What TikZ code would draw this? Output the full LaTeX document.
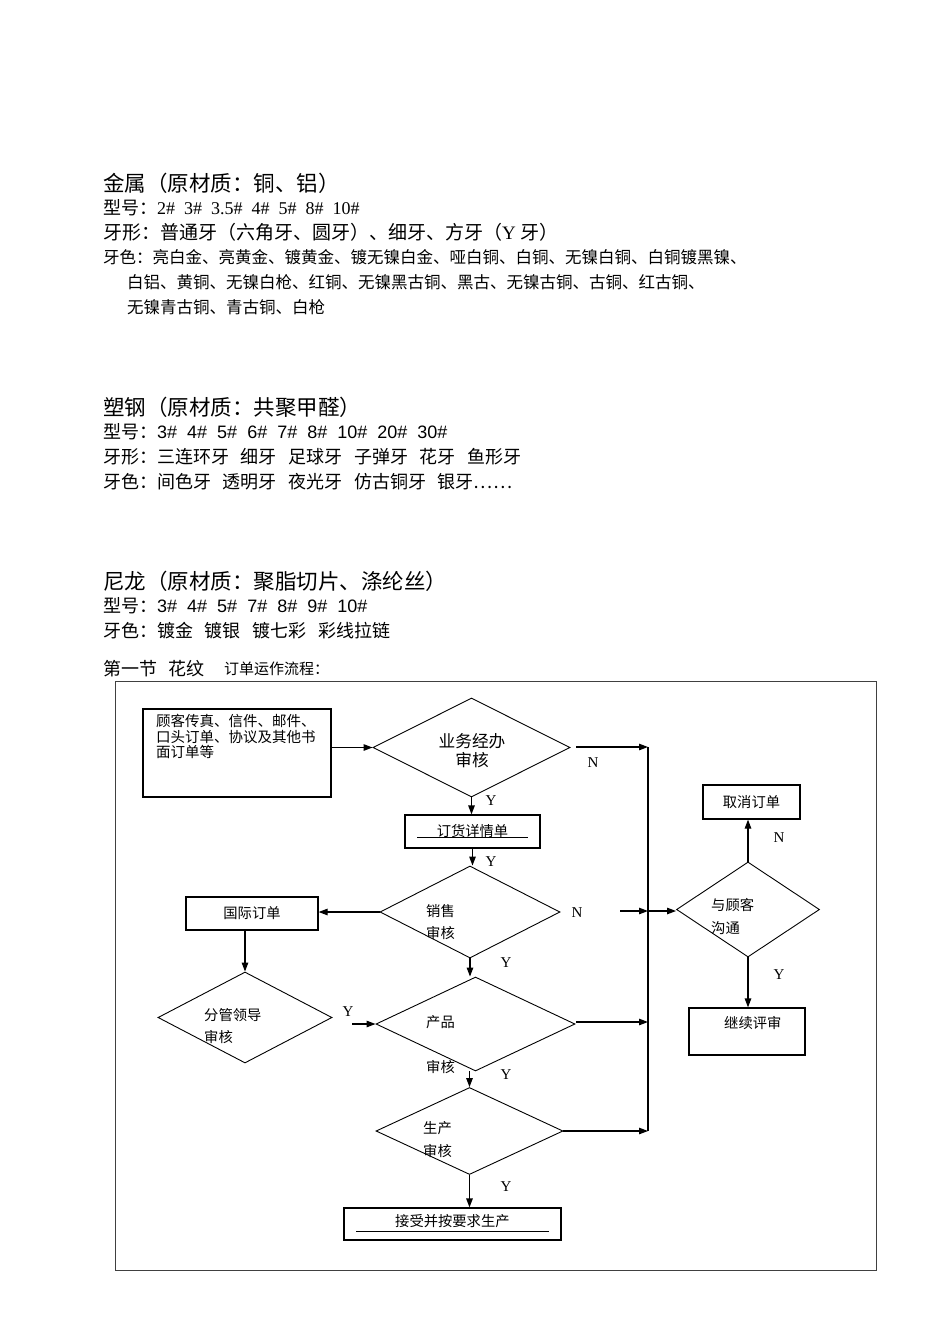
\documentclass[tikz,border=0pt]{standalone}
\usepackage{fontspec}
\setmainfont{Liberation Serif}
\setsansfont{Liberation Sans}
\newfontfamily\zh{Noto Sans CJK SC}
\usetikzlibrary{shapes.geometric, arrows.meta, calc}
\newcommand\wsp{\hspace{0.65em}}
\tikzset{
>={Triangle[length=9pt,width=6.5pt]}, % filled heads as in the scan
box/.style={draw, line width=1.2pt, inner sep=0pt, font=\zh\fontsize{14.3}{16}\selectfont}, % plain boxes
check/.style={draw, diamond, line width=0.9pt, inner sep=0pt}, % decisions, their text is set on top
flow/.style={->, line width=1.2pt}, % connectors
yn/.style={inner sep=0pt, font=\fontsize{15}{16}\selectfont}, % Y and N marks
lbl/.style={anchor=west, inner sep=0pt, align=left, font=\zh\fontsize{14.3}{22}\selectfont}, % text in the diamonds
head/.style={anchor=west, inner sep=0pt}, % lines of the page text
}
\begin{document}
\begin{tikzpicture}[x=1pt,y=-1pt]
\useasboundingbox (0,0) rectangle (950,1344);

% metal
\node[head, font=\zh\fontsize{21.5}{24}\selectfont] (metal) at (103,183) {金属（原材质：铜、铝）};
\node[head, font=\fontsize{18}{20}\selectfont] (metal-size) at (103,208) {{\zh 型号：}2\#~~3\#~~3.5\#~~4\#~~5\#~~8\#~~10\#};
\node[head, font=\fontsize{19}{20}\selectfont] (metal-tooth) at (103,232) {{\zh 牙形：普通牙（六角牙、圆牙）、细牙、方牙（}Y {\zh 牙）}};
\node[head, font=\zh\fontsize{16.5}{18}\selectfont] (metal-col1) at (103,257) {牙色：亮白金、亮黄金、镀黄金、镀无镍白金、哑白铜、白铜、无镍白铜、白铜镀黑镍、};
\node[head, font=\zh\fontsize{16.5}{18}\selectfont] (metal-col2) at (127,282) {白铝、黄铜、无镍白枪、红铜、无镍黑古铜、黑古、无镍古铜、古铜、红古铜、};
\node[head, font=\zh\fontsize{16.5}{18}\selectfont] (metal-col3) at (127,307) {无镍青古铜、青古铜、白枪};

% plastic
\node[head, font=\zh\fontsize{21.5}{24}\selectfont] (pom) at (103,407) {塑钢（原材质：共聚甲醛）};
\node[head, font=\sffamily\fontsize{18}{20}\selectfont] (pom-size) at (103,432) {{\zh 型号：}3\#~~4\#~~5\#~~6\#~~7\#~~8\#~~10\#~~20\#~~30\#};
\node[head, font=\zh\fontsize{18}{20}\selectfont] (pom-tooth) at (103,457) {牙形：三连环牙\wsp 细牙\wsp 足球牙\wsp 子弹牙\wsp 花牙\wsp 鱼形牙};
\node[head, font=\zh\fontsize{18}{20}\selectfont] (pom-col) at (103,482) {牙色：间色牙\wsp 透明牙\wsp 夜光牙\wsp 仿古铜牙\wsp 银牙……};

% nylon
\node[head, font=\zh\fontsize{21.5}{24}\selectfont] (nylon) at (103,581) {尼龙（原材质：聚脂切片、涤纶丝）};
\node[head, font=\sffamily\fontsize{18}{20}\selectfont] (nylon-size) at (103,606) {{\zh 型号：}3\#~~4\#~~5\#~~7\#~~8\#~~9\#~~10\#};
\node[head, font=\zh\fontsize{18}{20}\selectfont] (nylon-col) at (103,631) {牙色：镀金\wsp 镀银\wsp 镀七彩\wsp 彩线拉链};

\node[head, font=\zh\fontsize{18}{20}\selectfont] (sec) at (103,669) {第一节\wsp 花纹};
\node[head, font=\zh\fontsize{15}{16}\selectfont] (flowtitle) at (224,669) {订单运作流程：};

% frame of the flow chart
\draw[line width=1pt, black!75] (115,681) rectangle (876,1270);

% boxes
\node[box, minimum width=188pt, minimum height=88pt] (in) at (237,753) {};
\node[lbl, anchor=north west, font=\zh\fontsize{14.5}{15.5}\selectfont] (in-txt) at (156,714) {顾客传真、信件、邮件、\\口头订单、协议及其他书\\面订单等};
\node[box, minimum width=135pt, minimum height=33pt] (detail) at (472.5,831.5) {订货详情单};
\node[box, minimum width=132pt, minimum height=33pt] (intl) at (252,913.5) {国际订单};
\node[box, minimum width=97pt, minimum height=34pt] (cancel) at (751.5,802) {取消订单};
\node[box, minimum width=116pt, minimum height=47pt] (cont) at (747,1031.5) {};
\node[lbl, font=\zh\fontsize{14.3}{16}\selectfont] (cont-txt) at (724,1023) {继续评审};
\node[box, minimum width=217pt, minimum height=32pt] (prod) at (452.5,1224) {};
\node[lbl, font=\zh\fontsize{14.3}{16}\selectfont] (prod-txt) at (395,1221) {接受并按要求生产};
\draw[line width=1.2pt] ($(detail.south west)+(13,-11)$) -- ($(detail.south east)+(-13,-11)$);
\draw[line width=1.2pt] ($(prod.south west)+(13,-9)$) -- ($(prod.south east)+(-13,-9)$);

% decisions
\node[check, minimum width=197pt, minimum height=99pt] (d1) at (471.5,747.5) {};
\node[inner sep=0pt, align=center, font=\zh\fontsize{16.7}{19}\selectfont] (d1-txt) at (472,751) {业务经办\\审核};
\node[check, minimum width=180pt, minimum height=92pt] (d2) at (470,912) {};
\node[lbl] (d2-txt) at (426,922) {销售\\审核};
\node[check, minimum width=199pt, minimum height=94pt] (d3) at (475.5,1024) {};
\node[lbl] (d3-txt) at (426,1022) {产品};
\node[lbl] (d3-txt2) at (426,1067) {审核};
\node[check, minimum width=174pt, minimum height=91pt] (d4) at (245,1017.5) {};
\node[lbl] (d4-txt) at (204,1026) {分管领导\\审核};
\node[check, minimum width=187pt, minimum height=87pt] (d5) at (469.5,1131) {};
\node[lbl, font=\zh\fontsize{14.3}{23}\selectfont] (d5-txt) at (423,1139.5) {生产\\审核};
\node[check, minimum width=143pt, minimum height=95pt] (d6) at (748,909.5) {};
\node[lbl, font=\zh\fontsize{14.3}{23}\selectfont] (d6-txt) at (711,916.5) {与顾客\\沟通};

% points on the collecting line
\coordinate (bus1) at (648,747);
\coordinate (bus2) at (648,911);
\coordinate (bus3) at (648,1022);
\coordinate (bus4) at (648,1131);
\coordinate (d1-out) at (576,747);
\coordinate (d2-out) at (620,911);
\coordinate (d3-out) at (576,1022);
\coordinate (d4-out) at (352,1024);

% connectors
\draw[flow] (in.east |- d1.west) -- (d1.west);
\draw[flow] (d1-out) -- (bus1);
\draw[line width=1.2pt] (bus1) -- (bus4);
\draw[flow] (d1.south) -- (d1.south |- detail.north);
\draw[flow] (detail.south) -- (detail.south |- d2.north);
\draw[flow] (d2.west) -- (d2.west -| intl.east);
\draw[flow] (d2-out) -- (bus2);
\draw[flow] (bus2) -- (bus2 -| d6.west);
\draw[flow] (d2.south) -- (d2.south |- d3.north);
\draw[flow] (d4.north |- intl.south) -- (d4.north);
\draw[flow] (d4-out) -- (d3.west);
\draw[flow] (d3-out) -- (bus3);
\draw[flow] (d5.north |- d3.south) -- (d5.north);
\draw[flow] (d5.east) -- (bus4);
\draw[flow] (d5.south) -- (d5.south |- prod.north);
\draw[flow] (d6.north) -- (d6.north |- cancel.south);
\draw[flow] (d6.south) -- (d6.south |- cont.north);

% Y and N
\node[yn] (y1) at (491,801) {Y};
\node[yn] (y2) at (491,862) {Y};
\node[yn] (y3) at (506,963) {Y};
\node[yn] (y4) at (348,1012) {Y};
\node[yn] (y5) at (506,1075) {Y};
\node[yn] (y6) at (506,1187) {Y};
\node[yn] (y7) at (779,975) {Y};
\node[yn] (n1) at (593,763) {N};
\node[yn] (n2) at (577,913) {N};
\node[yn] (n3) at (779,838) {N};
\end{tikzpicture}
\end{document}
